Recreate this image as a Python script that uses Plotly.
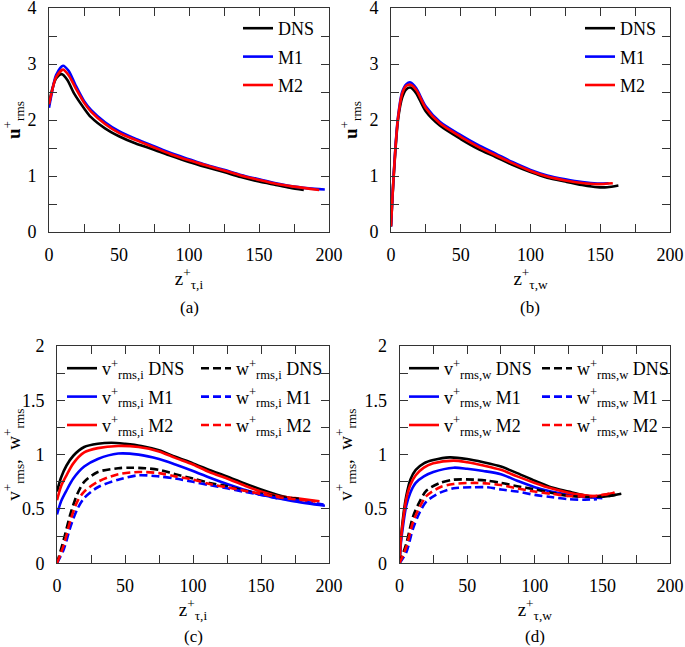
import plotly.graph_objects as go

# ---------------- data ----------------
# panel (a): u_rms+ vs z+_{tau,i}
a_dns_x = [0, 2, 5, 9, 13, 18, 25, 30, 40, 50, 62, 75, 87, 100, 112, 125, 137, 150, 162, 172, 182]
a_dns_y = [2.27, 2.52, 2.74, 2.82, 2.72, 2.47, 2.21, 2.05, 1.85, 1.71, 1.58, 1.47, 1.36, 1.25, 1.16, 1.07, 0.98, 0.90, 0.84, 0.79, 0.75]
a_m1_x = [0, 2, 5, 10, 14, 19, 25, 30, 40, 50, 62, 75, 87, 100, 112, 125, 137, 150, 162, 175, 190, 197]
a_m1_y = [2.22, 2.48, 2.80, 2.97, 2.88, 2.62, 2.34, 2.18, 1.96, 1.80, 1.66, 1.53, 1.41, 1.30, 1.20, 1.11, 1.02, 0.94, 0.87, 0.81, 0.77, 0.76]
a_m2_x = [0, 2, 5, 10, 14, 19, 25, 30, 40, 50, 62, 75, 87, 100, 112, 125, 137, 150, 162, 175, 193]
a_m2_y = [2.28, 2.50, 2.76, 2.90, 2.80, 2.57, 2.31, 2.15, 1.93, 1.77, 1.64, 1.51, 1.39, 1.28, 1.19, 1.10, 1.01, 0.93, 0.86, 0.81, 0.75]

# panel (b): u_rms+ vs z+_{tau,w}
b_dns_x = [0, 1, 3, 5, 8, 11, 14, 18, 25, 35, 50, 62, 75, 87, 100, 112, 125, 137, 148, 155, 163]
b_dns_y = [0.10, 0.60, 1.40, 2.00, 2.40, 2.55, 2.58, 2.48, 2.15, 1.90, 1.66, 1.49, 1.34, 1.20, 1.07, 0.97, 0.90, 0.84, 0.80, 0.80, 0.83]
b_m1_x = [0, 1, 3, 5, 8, 11, 14, 18, 25, 35, 50, 62, 75, 87, 100, 112, 125, 137, 148, 156]
b_m1_y = [0.10, 0.62, 1.45, 2.05, 2.50, 2.64, 2.67, 2.57, 2.24, 1.97, 1.73, 1.56, 1.40, 1.25, 1.11, 1.01, 0.94, 0.89, 0.865, 0.87]
b_m2_x = [0, 1, 3, 5, 8, 11, 14, 18, 25, 35, 50, 62, 75, 87, 100, 112, 125, 137, 148, 159]
b_m2_y = [0.10, 0.61, 1.43, 2.03, 2.47, 2.61, 2.63, 2.54, 2.21, 1.94, 1.70, 1.53, 1.37, 1.23, 1.09, 0.99, 0.92, 0.875, 0.855, 0.87]

# panel (c): v_rms+, w_rms+ vs z+_{tau,i}
c_v_dns_x = [0, 3, 7, 12, 20, 30, 40, 50, 62, 75, 87, 100, 112, 125, 137, 150, 165, 180]
c_v_dns_y = [0.66, 0.79, 0.90, 0.99, 1.07, 1.10, 1.11, 1.10, 1.08, 1.04, 0.98, 0.92, 0.86, 0.80, 0.74, 0.68, 0.62, 0.58]
c_v_m1_x = [0, 3, 7, 12, 20, 30, 45, 60, 75, 87, 100, 112, 125, 137, 150, 162, 175, 197]
c_v_m1_y = [0.45, 0.57, 0.67, 0.78, 0.89, 0.96, 1.01, 1.00, 0.96, 0.91, 0.85, 0.79, 0.73, 0.68, 0.63, 0.60, 0.57, 0.53]
c_v_m2_x = [0, 3, 7, 12, 20, 30, 45, 60, 75, 87, 100, 112, 125, 137, 150, 162, 175, 193]
c_v_m2_y = [0.58, 0.71, 0.81, 0.92, 1.02, 1.06, 1.08, 1.07, 1.03, 0.97, 0.91, 0.84, 0.78, 0.72, 0.66, 0.62, 0.60, 0.57]
c_w_dns_x = [0, 5, 10, 15, 20, 30, 45, 55, 65, 75, 87, 100, 112, 125, 137, 150, 165, 180]
c_w_dns_y = [0.0, 0.22, 0.46, 0.64, 0.75, 0.84, 0.875, 0.88, 0.875, 0.86, 0.82, 0.78, 0.74, 0.71, 0.67, 0.64, 0.61, 0.59]
c_w_m1_x = [0, 5, 10, 15, 20, 30, 45, 60, 75, 87, 100, 112, 125, 137, 150, 162, 175, 196]
c_w_m1_y = [0.0, 0.13, 0.34, 0.50, 0.60, 0.70, 0.77, 0.81, 0.80, 0.78, 0.75, 0.72, 0.69, 0.66, 0.63, 0.60, 0.58, 0.54]
c_w_m2_x = [0, 5, 10, 15, 20, 30, 45, 60, 75, 87, 100, 112, 125, 137, 150, 162, 175, 190]
c_w_m2_y = [0.0, 0.17, 0.40, 0.57, 0.66, 0.75, 0.82, 0.84, 0.83, 0.80, 0.77, 0.73, 0.70, 0.67, 0.64, 0.61, 0.59, 0.57]

# panel (d): v_rms+, w_rms+ vs z+_{tau,w}
d_v_dns_x = [0, 1, 3, 5, 8, 12, 18, 25, 37, 50, 62, 75, 87, 100, 112, 125, 135, 145, 155, 164]
d_v_dns_y = [0.0, 0.22, 0.46, 0.62, 0.77, 0.86, 0.92, 0.95, 0.975, 0.96, 0.93, 0.89, 0.83, 0.76, 0.70, 0.66, 0.63, 0.61, 0.62, 0.64]
d_v_m1_x = [0, 1, 3, 5, 8, 12, 18, 25, 40, 50, 62, 75, 87, 100, 112, 125, 137, 150]
d_v_m1_y = [0.0, 0.18, 0.38, 0.53, 0.65, 0.74, 0.80, 0.84, 0.88, 0.87, 0.85, 0.82, 0.76, 0.70, 0.66, 0.63, 0.61, 0.60]
d_v_m2_x = [0, 1, 3, 5, 8, 12, 18, 25, 40, 50, 62, 75, 87, 100, 112, 125, 135, 145, 159]
d_v_m2_y = [0.0, 0.21, 0.43, 0.59, 0.72, 0.81, 0.88, 0.92, 0.945, 0.93, 0.90, 0.86, 0.80, 0.74, 0.69, 0.65, 0.63, 0.62, 0.65]
d_w_dns_x = [0, 5, 10, 15, 20, 30, 40, 55, 65, 75, 87, 100, 112, 125, 140, 155, 163]
d_w_dns_y = [0.0, 0.18, 0.43, 0.57, 0.67, 0.74, 0.77, 0.77, 0.76, 0.74, 0.71, 0.68, 0.65, 0.62, 0.61, 0.62, 0.64]
d_w_m1_x = [0, 5, 10, 15, 20, 30, 40, 55, 65, 75, 87, 100, 112, 125, 137, 146]
d_w_m1_y = [0.0, 0.10, 0.32, 0.47, 0.57, 0.65, 0.69, 0.70, 0.70, 0.68, 0.66, 0.63, 0.61, 0.59, 0.585, 0.59]
d_w_m2_x = [0, 5, 10, 15, 20, 30, 40, 55, 65, 75, 87, 100, 112, 125, 135, 145, 159]
d_w_m2_y = [0.0, 0.15, 0.38, 0.52, 0.62, 0.70, 0.73, 0.74, 0.735, 0.72, 0.69, 0.66, 0.64, 0.62, 0.615, 0.62, 0.65]

x_ticks = [0, 50, 100, 150, 200]
captions = ["(a)", "(b)", "(c)", "(d)"]

# ---------------- styling ----------------
W, H = 685, 647
FONT = "Liberation Serif, Times New Roman, Times, serif"
BLACK, BLUE, RED = "#000000", "#0000ff", "#ff0000"
LW = 2.6
DASH = "8px,4px"

def px_x(p):
    return p / W

def px_y(p):
    return 1 - p / H

fig = go.Figure()

def add(x, y, color, name, xa, ya, legend, dash="solid", group=None):
    fig.add_trace(go.Scatter(
        x=x, y=y, mode="lines", name=name,
        line=dict(color=color, width=LW, dash=dash, shape="spline", smoothing=0.8),
        xaxis=xa, yaxis=ya, legend=legend, legendgroup=group or name,
        showlegend=True,
    ))

# (a)
add(a_dns_x, a_dns_y, BLACK, "DNS", "x", "y", "legend", group="a1")
add(a_m1_x, a_m1_y, BLUE, "M1", "x", "y", "legend", group="a2")
add(a_m2_x, a_m2_y, RED, "M2", "x", "y", "legend", group="a3")
# (b)
add(b_dns_x, b_dns_y, BLACK, "DNS", "x2", "y2", "legend2", group="b1")
add(b_m1_x, b_m1_y, BLUE, "M1", "x2", "y2", "legend2", group="b2")
add(b_m2_x, b_m2_y, RED, "M2", "x2", "y2", "legend2", group="b3")
# (c)
vi = "v<sup>+</sup><sub>rms,i</sub> "
wi = "w<sup>+</sup><sub>rms,i</sub> "
add(c_v_dns_x, c_v_dns_y, BLACK, vi + "DNS", "x3", "y3", "legend3", group="c1")
add(c_v_m1_x, c_v_m1_y, BLUE, vi + "M1", "x3", "y3", "legend3", group="c2")
add(c_v_m2_x, c_v_m2_y, RED, vi + "M2", "x3", "y3", "legend3", group="c3")
add(c_w_dns_x, c_w_dns_y, BLACK, wi + "DNS", "x3", "y3", "legend4", DASH, group="c4")
add(c_w_m1_x, c_w_m1_y, BLUE, wi + "M1", "x3", "y3", "legend4", DASH, group="c5")
add(c_w_m2_x, c_w_m2_y, RED, wi + "M2", "x3", "y3", "legend4", DASH, group="c6")
# (d)
vw = "v<sup>+</sup><sub>rms,w</sub> "
ww = "w<sup>+</sup><sub>rms,w</sub> "
add(d_v_dns_x, d_v_dns_y, BLACK, vw + "DNS", "x4", "y4", "legend5", group="d1")
add(d_v_m1_x, d_v_m1_y, BLUE, vw + "M1", "x4", "y4", "legend5", group="d2")
add(d_v_m2_x, d_v_m2_y, RED, vw + "M2", "x4", "y4", "legend5", group="d3")
add(d_w_dns_x, d_w_dns_y, BLACK, ww + "DNS", "x4", "y4", "legend6", DASH, group="d4")
add(d_w_m1_x, d_w_m1_y, BLUE, ww + "M1", "x4", "y4", "legend6", DASH, group="d5")
add(d_w_m2_x, d_w_m2_y, RED, ww + "M2", "x4", "y4", "legend6", DASH, group="d6")

AX_COLOR = "#333333"
tickfont = dict(family=FONT, size=18, color="#000")

def xaxis(dom, anchor, title):
    return dict(
        domain=dom, anchor=anchor, range=[0, 200], tickvals=x_ticks,
        ticks="inside", ticklen=8, tickcolor=AX_COLOR, tickwidth=1,
        minor=dict(dtick=25, tick0=0, ticks="inside", ticklen=8, tickcolor=AX_COLOR, showgrid=False),
        showline=True, linecolor=AX_COLOR, linewidth=1, mirror="ticks",
        showgrid=False, zeroline=False, tickfont=tickfont, automargin=False,
        ticklabelstandoff=6, ticklabeloverflow="allow",
        title=dict(text=title, font=dict(family=FONT, size=19, color="#000"), standoff=6),
    )

def yaxis(dom, anchor, rng, dtick, minor, title):
    return dict(
        domain=dom, anchor=anchor, range=rng, dtick=dtick, tick0=0,
        ticks="inside", ticklen=8, tickcolor=AX_COLOR, tickwidth=1,
        minor=dict(dtick=minor, tick0=0, ticks="inside", ticklen=8, tickcolor=AX_COLOR, showgrid=False),
        showline=True, linecolor=AX_COLOR, linewidth=1, mirror="ticks",
        showgrid=False, zeroline=False, tickfont=tickfont, automargin=False,
        ticklabelstandoff=8, ticklabeloverflow="allow",
        title=dict(text=title, font=dict(family=FONT, size=19, color="#000"), standoff=6),
    )

top_dom = [px_y(232), px_y(8)]
bot_dom = [px_y(563.3), px_y(346)]

u_title = "<b>u</b><sup>+</sup><sub>rms</sub>"
vw_title = "v<sup>+</sup><sub>rms</sub>,  w<sup>+</sup><sub>rms</sub>"
zi = "z<sup>+</sup><sub>τ,i</sub>"
zw = "z<sup>+</sup><sub>τ,w</sub>"

legend_common = dict(bgcolor="rgba(0,0,0,0)", borderwidth=0,
                     font=dict(family=FONT, size=18, color="#000"),
                     xanchor="left", yanchor="top", tracegroupgap=2)

fig.update_layout(
    width=W, height=H,
    margin=dict(l=0, r=0, t=0, b=0),
    paper_bgcolor="white", plot_bgcolor="white",
    xaxis=xaxis([px_x(49), px_x(329)], "y", zi),
    yaxis=yaxis(top_dom, "x", [0, 4], 1, 0.5, u_title),
    xaxis2=xaxis([px_x(391), px_x(670)], "y2", zw),
    yaxis2=yaxis(top_dom, "x2", [0, 4], 1, 0.5, u_title),
    xaxis3=xaxis([px_x(57), px_x(329)], "y3", zi),
    yaxis3=yaxis(bot_dom, "x3", [0, 2], 0.5, 0.25, vw_title),
    xaxis4=xaxis([px_x(399.5), px_x(670)], "y4", zw),
    yaxis4=yaxis(bot_dom, "x4", [0, 2], 0.5, 0.25, vw_title),
    legend=dict(**legend_common, x=px_x(238), y=px_y(10)),
    legend2=dict(**legend_common, x=px_x(580), y=px_y(10)),
    legend3=dict(**legend_common, x=px_x(62), y=px_y(350)),
    legend4=dict(**legend_common, x=px_x(196), y=px_y(350)),
    legend5=dict(**legend_common, x=px_x(404), y=px_y(350)),
    legend6=dict(**legend_common, x=px_x(537), y=px_y(350)),
)

cap_pos = [(189, 307), (530, 307), (193, 636), (535, 636)]
for cap, (cx, cy) in zip(captions, cap_pos):
    fig.add_annotation(text=cap, x=px_x(cx), y=px_y(cy), xref="paper", yref="paper",
                       showarrow=False, font=dict(family=FONT, size=17, color="#000"),
                       xanchor="center", yanchor="middle")

fig.write_html("out.html", config={"displayModeBar": False},
               post_script="document.body.style.margin='0';")
